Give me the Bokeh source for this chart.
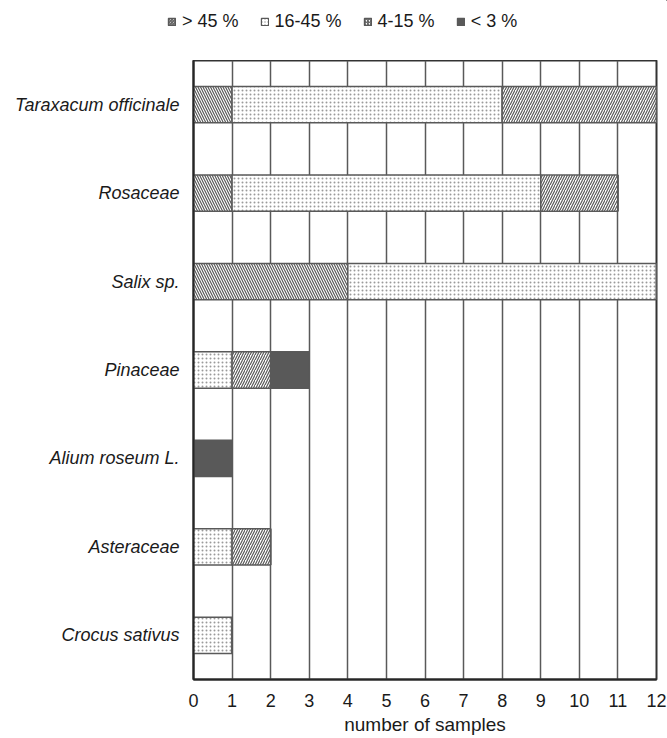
from bokeh.plotting import figure
from bokeh.layouts import column
from bokeh.models import ColumnDataSource, FactorRange, Range1d, FixedTicker, Legend, LegendItem
from bokeh.transform import dodge
from bokeh.embed import file_html
from bokeh.resources import INLINE

categories = ["Taraxacum officinale", "Rosaceae", "Salix sp.", "Pinaceae",
              "Alium roseum L.", "Asteraceae", "Crocus sativus"]
over_45 = [1, 1, 4, 0, 0, 0, 0]
from_16_to_45 = [7, 8, 8, 1, 0, 1, 1]
from_4_to_15 = [4, 2, 0, 1, 0, 1, 0]
under_3 = [0, 0, 0, 1, 1, 0, 0]
series_labels = ["> 45 %", "16-45 %", "4-15 %", "< 3 %"]
x_ticks = list(range(0, 13))

FONT = "Liberation Sans"
TXT = "#1a1a1a"
EDGE = "#595959"

fills = ["white", "white", "white", EDGE]
hatches = ["left_diagonal_line", "dot", "right_diagonal_line", "blank"]
hcolors = [EDGE, "#9a9a9a", EDGE, EDGE]
hscales = [5, 4, 5, 5]
hweights = [1.2, 1.0, 1.2, 1.0]
stackers = ["s1", "s2", "s3", "s4"]

src = ColumnDataSource(dict(cats=categories, s1=over_45, s2=from_16_to_45,
                            s3=from_4_to_15, s4=under_3))

# ---- legend strip (its own view range keeps the swatch renderers' bars out of sight) ----
leg_y = FactorRange(*reversed(categories))
lf = figure(width=667, height=60, x_range=Range1d(-2, -1), y_range=leg_y,
            output_backend="svg", toolbar_location=None, min_border=0)
try:
    lf.frame_align = False
except Exception:
    pass
lf.axis.visible = False
lf.grid.visible = False
lf.outline_line_color = None
lf.background_fill_color = "white"
lf.border_fill_color = "white"
leg_rs = lf.hbar_stack(stackers, y=dodge("cats", 100, range=leg_y), height=0.41, source=src,
                       fill_color=fills, line_color=EDGE, line_width=1.2,
                       hatch_pattern=hatches, hatch_color=hcolors,
                       hatch_scale=[3, 3, 3, 3], hatch_weight=hweights)
legend = Legend(items=[LegendItem(label=l, renderers=[r]) for l, r in zip(series_labels, leg_rs)],
                orientation="horizontal", location=(167, 28),
                glyph_width=9, glyph_height=9, label_standoff=6, spacing=21,
                padding=0, margin=0, border_line_color=None, background_fill_alpha=0,
                label_text_font=FONT, label_text_font_size="18px", label_text_color=TXT)
lf.add_layout(legend, "center")

# ---- main chart ----
p = figure(width=667, height=678,
           x_range=Range1d(0, 12),
           y_range=FactorRange(*reversed(categories)),
           output_backend="svg", toolbar_location=None,
           min_border_left=193, min_border_right=11,
           min_border_top=0, min_border_bottom=59)
try:
    p.frame_align = False
except Exception:
    pass

rs = p.hbar_stack(stackers, y="cats", height=0.41, source=src,
                  fill_color=fills, line_color=EDGE, line_width=1.5,
                  hatch_pattern=hatches, hatch_color=hcolors,
                  hatch_scale=hscales, hatch_weight=hweights)

p.xaxis.ticker = FixedTicker(ticks=x_ticks)
p.xaxis.major_tick_line_color = None
p.xaxis.minor_tick_line_color = None
p.xaxis.major_tick_out = 0
p.xaxis.major_tick_in = 0
p.xaxis.major_label_standoff = 14
p.xaxis.axis_label = "number of samples"
p.xaxis.axis_label_standoff = 4
p.xaxis.axis_label_text_font = FONT
p.xaxis.axis_label_text_font_style = "normal"
p.xaxis.axis_label_text_font_size = "19px"
p.xaxis.axis_label_text_color = TXT
p.xaxis.major_label_text_font = FONT
p.xaxis.major_label_text_font_size = "18px"
p.xaxis.major_label_text_color = TXT
p.xaxis.axis_line_color = "#262626"
p.xaxis.axis_line_width = 2

p.yaxis.major_tick_line_color = None
p.yaxis.minor_tick_line_color = None
p.yaxis.major_tick_out = 0
p.yaxis.major_tick_in = 0
p.yaxis.major_label_standoff = 14
p.yaxis.major_label_text_font = FONT
p.yaxis.major_label_text_font_style = "italic"
p.yaxis.major_label_text_font_size = "18px"
p.yaxis.major_label_text_color = TXT
p.yaxis.axis_line_color = "#262626"
p.yaxis.axis_line_width = 2

p.ygrid.grid_line_color = None
p.xgrid.ticker = FixedTicker(ticks=x_ticks)
p.xgrid.grid_line_color = EDGE
p.xgrid.grid_line_width = 1.5

p.outline_line_color = "#333333"
p.outline_line_width = 2
p.background_fill_color = "white"
p.border_fill_color = "white"

layout = column(lf, p, spacing=0)
open("out.html", "w").write(file_html(layout, INLINE))
